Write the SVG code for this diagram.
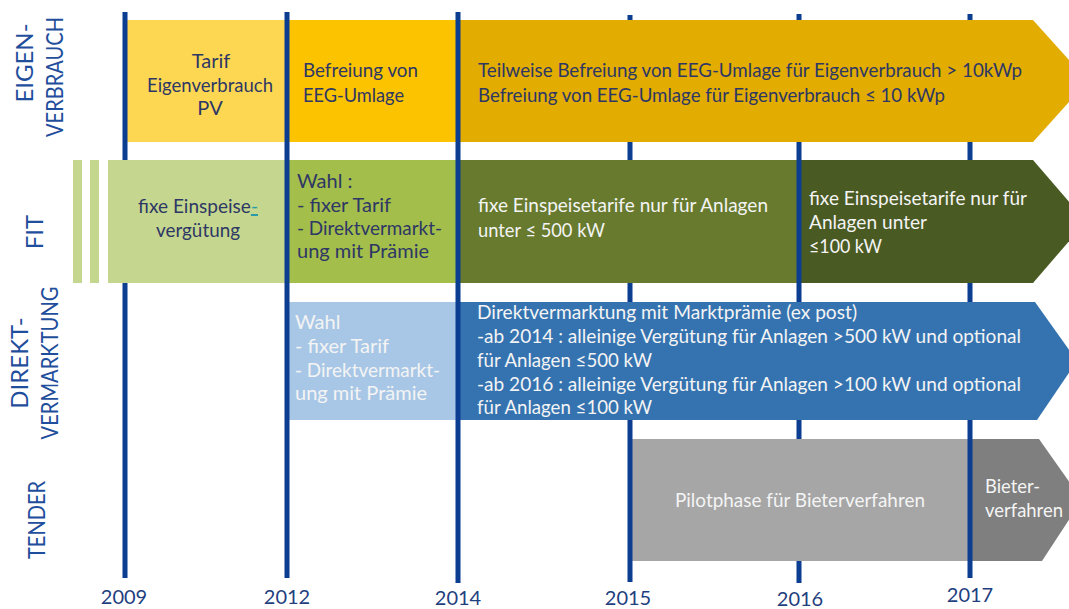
<svg xmlns="http://www.w3.org/2000/svg" width="1069" height="609" viewBox="0 0 1069 609">
  <style>
    text { font-family: Lato, "Liberation Sans", sans-serif; }
    .lbl { font-size: 24px; fill: #1f4e9c; text-anchor: middle; }
    .yr { font-size: 20px; fill: #1f3f7f; text-anchor: middle; }
    .t { font-size: 20px; }
    .dk { fill: #2e3765; }
    .wt { fill: #f4f4f4; }
    .mid { text-anchor: middle; }
    .hy { fill: #2a9aa8; text-decoration: underline; }
    .axis { stroke: #0b3d91; stroke-width: 5; fill: none; }
  </style>

  <rect width="1069" height="609" fill="#ffffff"/>

  <!-- row labels -->
  <g id="label-eigenverbrauch">
    <text class="lbl" transform="translate(33,63) rotate(-90)">EIGEN-</text>
    <text class="lbl" transform="translate(63,77) rotate(-90)" textLength="120" lengthAdjust="spacingAndGlyphs">VERBRAUCH</text>
  </g>
  <g id="label-fit">
    <text class="lbl" transform="translate(43,232) rotate(-90)">FIT</text>
  </g>
  <g id="label-direktvermarktung">
    <text class="lbl" transform="translate(28,363) rotate(-90)">DIREKT-</text>
    <text class="lbl" transform="translate(58,363) rotate(-90)" textLength="153" lengthAdjust="spacingAndGlyphs">VERMARKTUNG</text>
  </g>
  <g id="label-tender">
    <text class="lbl" transform="translate(45,520) rotate(-90)" textLength="78" lengthAdjust="spacingAndGlyphs">TENDER</text>
  </g>

  <!-- EIGENVERBRAUCH row -->
  <g id="eig-tarif">
    <rect x="125" y="20" width="162" height="122" fill="#fdd752"/>
    <text class="t dk mid" x="211" y="68">Tarif</text>
    <text class="t dk mid" x="210" y="92" textLength="126" lengthAdjust="spacingAndGlyphs">Eigenverbrauch</text>
    <text class="t dk mid" x="210" y="115">PV</text>
  </g>
  <g id="eig-befreiung">
    <rect x="287" y="20" width="171" height="122" fill="#fcc300"/>
    <text class="t dk" x="303" y="77" textLength="115" lengthAdjust="spacingAndGlyphs">Befreiung von</text>
    <text class="t dk" x="303" y="102" textLength="101" lengthAdjust="spacingAndGlyphs">EEG-Umlage</text>
  </g>
  <g id="eig-teilweise">
    <polygon points="458,20 1033,20 1088,81 1033,142 458,142" fill="#e2ad00"/>
    <text class="t dk" x="478" y="77" textLength="544" lengthAdjust="spacingAndGlyphs">Teilweise Befreiung von EEG-Umlage für Eigenverbrauch &gt; 10kWp</text>
    <text class="t dk" x="478" y="102" textLength="467" lengthAdjust="spacingAndGlyphs">Befreiung von EEG-Umlage für Eigenverbrauch ≤ 10 kWp</text>
  </g>

  <!-- FIT row -->
  <g id="fit-fix">
    <rect x="73" y="160" width="9" height="123" fill="#c5d78e"/>
    <rect x="90" y="160" width="9" height="123" fill="#c5d78e"/>
    <rect x="108" y="160" width="179" height="123" fill="#c5d78e"/>
    <text class="t dk mid" x="198" y="213" textLength="120" lengthAdjust="spacingAndGlyphs">fixe Einspeise<tspan class="hy">-</tspan></text>
    <text class="t dk mid" x="198" y="237" textLength="84" lengthAdjust="spacingAndGlyphs">vergütung</text>
  </g>
  <g id="fit-wahl">
    <rect x="287" y="160" width="171" height="123" fill="#a3be4b"/>
    <text class="t dk" x="297" y="188">Wahl :</text>
    <text class="t dk" x="297" y="212">- fixer Tarif</text>
    <text class="t dk" x="297" y="235" textLength="145" lengthAdjust="spacingAndGlyphs">- Direktvermarkt-</text>
    <text class="t dk" x="297" y="258">ung mit Prämie</text>
  </g>
  <g id="fit-500">
    <rect x="458" y="160" width="341" height="123" fill="#677a2e"/>
    <text class="t wt" x="478" y="212" textLength="290" lengthAdjust="spacingAndGlyphs">fixe Einspeisetarife nur für Anlagen</text>
    <text class="t wt" x="478" y="237" textLength="127" lengthAdjust="spacingAndGlyphs">unter ≤ 500 kW</text>
  </g>
  <g id="fit-100">
    <polygon points="799,160 1033,160 1086,221.5 1033,283 799,283" fill="#4a5a23"/>
    <text class="t wt" x="809" y="205" textLength="218" lengthAdjust="spacingAndGlyphs">fixe Einspeisetarife nur für</text>
    <text class="t wt" x="809" y="229" textLength="118" lengthAdjust="spacingAndGlyphs">Anlagen unter</text>
    <text class="t wt" x="809" y="253" textLength="73" lengthAdjust="spacingAndGlyphs">≤100 kW</text>
  </g>

  <!-- DIREKTVERMARKTUNG row -->
  <g id="dv-wahl">
    <rect x="287" y="302" width="171" height="118" fill="#a8c7e6"/>
    <text class="t wt" x="295" y="329">Wahl</text>
    <text class="t wt" x="295" y="353">- fixer Tarif</text>
    <text class="t wt" x="295" y="377" textLength="145" lengthAdjust="spacingAndGlyphs">- Direktvermarkt-</text>
    <text class="t wt" x="295" y="400">ung mit Prämie</text>
  </g>
  <g id="dv-marktpraemie">
    <polygon points="458,302 1035,302 1077,361 1037,420 458,420" fill="#3473b0"/>
    <text class="t wt" x="477" y="319" textLength="380" lengthAdjust="spacingAndGlyphs">Direktvermarktung mit Marktprämie (ex post)</text>
    <text class="t wt" x="477" y="343" textLength="544" lengthAdjust="spacingAndGlyphs">-ab 2014 : alleinige Vergütung für Anlagen &gt;500 kW und optional</text>
    <text class="t wt" x="477" y="367" textLength="175" lengthAdjust="spacingAndGlyphs">für Anlagen ≤500 kW</text>
    <text class="t wt" x="477" y="391" textLength="544" lengthAdjust="spacingAndGlyphs">-ab 2016 : alleinige Vergütung für Anlagen &gt;100 kW und optional</text>
    <text class="t wt" x="477" y="414" textLength="175" lengthAdjust="spacingAndGlyphs">für Anlagen ≤100 kW</text>
  </g>

  <!-- TENDER row -->
  <g id="tender-pilot">
    <rect x="630" y="439" width="340" height="122" fill="#a6a6a6"/>
    <text class="t wt mid" x="800" y="507" textLength="250" lengthAdjust="spacingAndGlyphs">Pilotphase für Bieterverfahren</text>
  </g>
  <g id="tender-bieter">
    <polygon points="970,439 1039,439 1082,500 1042,561 970,561" fill="#7f7f7f"/>
    <text class="t wt" x="985" y="493" textLength="55" lengthAdjust="spacingAndGlyphs">Bieter-</text>
    <text class="t wt" x="985" y="517" textLength="78" lengthAdjust="spacingAndGlyphs">verfahren</text>
  </g>

  <!-- year axes -->
  <g id="connectors">
    <path class="axis" d="M125,12 V160 M125,283 V578"/>
    <path class="axis" d="M287,12 V578"/>
    <path class="axis" d="M458,12 V583"/>
    <path class="axis" d="M630,15 V20 M630,142 V160 M630,283 V302 M630,420 V582"/>
    <path class="axis" d="M799,14 V20 M799,142 V302 M799,420 V439 M799,561 V583"/>
    <path class="axis" d="M970,14 V20 M970,142 V160 M970,283 V302 M970,420 V578"/>
  </g>

  <!-- years -->
  <g id="years">
    <text class="yr" x="124" y="604">2009</text>
    <text class="yr" x="287" y="604">2012</text>
    <text class="yr" x="458" y="605">2014</text>
    <text class="yr" x="628" y="605">2015</text>
    <text class="yr" x="800" y="606">2016</text>
    <text class="yr" x="970" y="602">2017</text>
  </g>
</svg>
